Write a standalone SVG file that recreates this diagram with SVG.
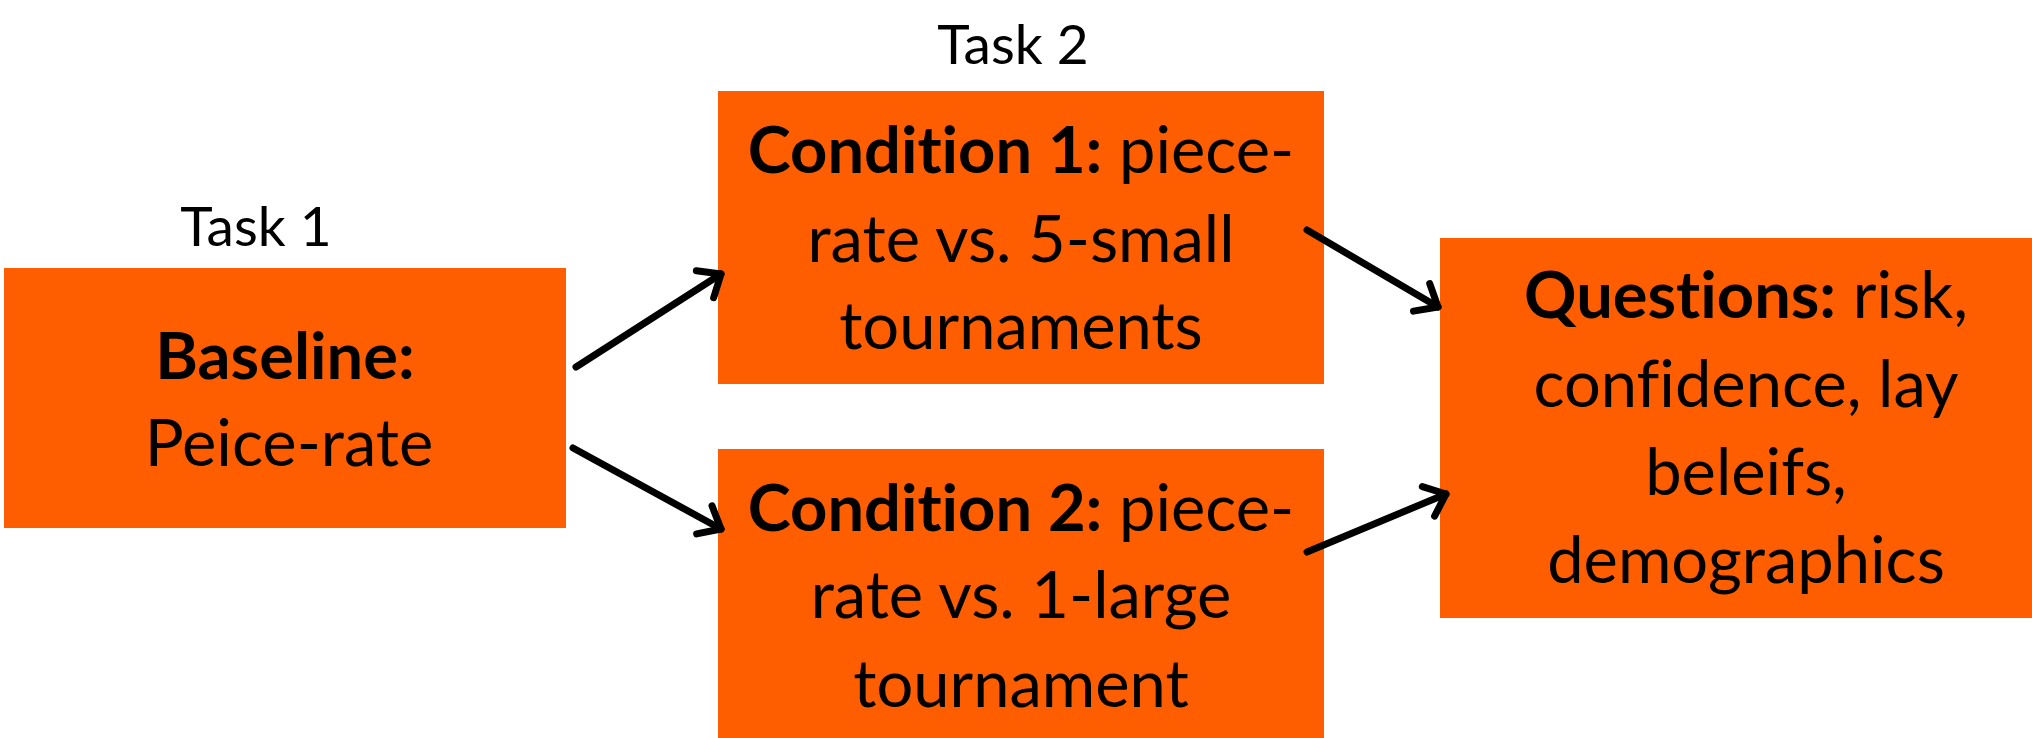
<svg xmlns="http://www.w3.org/2000/svg" width="2032" height="738" viewBox="0 0 2032 738">
<style>
.box{fill:#FF5E00}
.t{font-family:Lato,"Liberation Sans",sans-serif;font-size:65px;fill:#000;text-anchor:middle;font-variant-ligatures:none}
.lab{font-family:Lato,"Liberation Sans",sans-serif;font-size:55px;fill:#000;text-anchor:middle}
.b{font-weight:bold}
.c{stroke:#000;stroke-width:7;fill:none;stroke-linecap:round}
</style>
<defs>
<marker id="ah" markerUnits="userSpaceOnUse" markerWidth="60" markerHeight="60" viewBox="-30 -30 60 60" refX="0" refY="0" orient="auto">
<path d="M-19,-16 L0,0 L-19,16" fill="none" stroke="#000" stroke-width="7" stroke-linecap="round" stroke-linejoin="round"/>
</marker>
</defs>
<rect width="2032" height="738" fill="#fff"/>
<text class="lab" x="256" y="246">Task 1</text>
<text class="lab" x="1013" y="64">Task 2</text>
<g id="baseline">
<rect class="box" x="4" y="268" width="562" height="260"/>
<text class="t" x="285" y="379"><tspan class="b">Baseline:</tspan></text>
<text class="t" x="289" y="466">Peice-rate</text>
</g>
<g id="condition1">
<rect class="box" x="718" y="91" width="606" height="293"/>
<text class="t" x="1021" y="173"><tspan class="b">Condition 1:</tspan> piece-</text>
<text class="t" x="1021" y="262">rate vs. 5-small</text>
<text class="t" x="1021" y="349">tournaments</text>
</g>
<g id="condition2">
<rect class="box" x="718" y="449" width="606" height="289"/>
<text class="t" x="1021" y="531"><tspan class="b">Condition 2:</tspan> piece-</text>
<text class="t" x="1021" y="618">rate vs. 1-large</text>
<text class="t" x="1021" y="707">tournament</text>
</g>
<g id="questions">
<rect class="box" x="1440" y="238" width="592" height="380"/>
<text class="t" x="1746" y="318"><tspan class="b">Questions:</tspan> risk,</text>
<text class="t" x="1746" y="407">confidence, lay</text>
<text class="t" x="1746" y="495">beleifs,</text>
<text class="t" x="1746" y="583">demographics</text>
</g>
<g id="connectors">
<line class="c" x1="576" y1="367" x2="721" y2="274" marker-end="url(#ah)"/>
<line class="c" x1="573" y1="448" x2="721" y2="529" marker-end="url(#ah)"/>
<line class="c" x1="1307" y1="230" x2="1438" y2="307" marker-end="url(#ah)"/>
<line class="c" x1="1307" y1="552" x2="1446" y2="494" marker-end="url(#ah)"/>
</g>
</svg>
